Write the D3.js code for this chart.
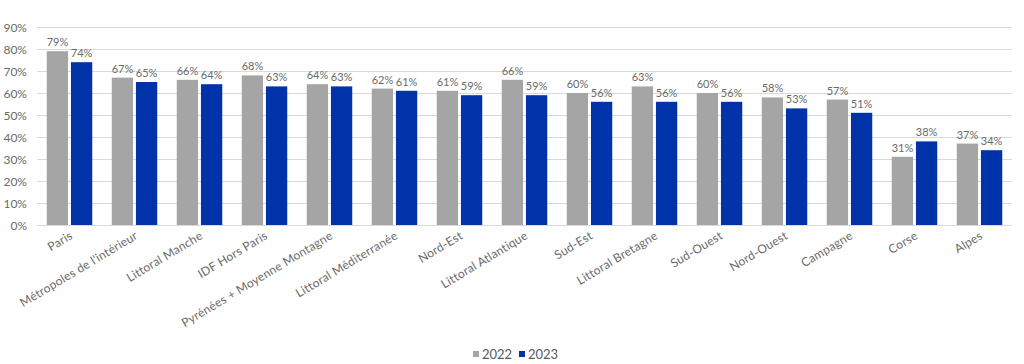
<!DOCTYPE html>
<html>
<head>
<meta charset="utf-8">
<script src="https://cdn.jsdelivr.net/npm/d3@7"></script>
<style>
	body{margin:0;background:#fff;}
	svg text{font-family:Lato, "Open Sans", sans-serif;fill:#6a6a6a;}
</style>
</head>
<body>
<div id="chart"></div>
<script>
// regions, ordered as in the chart
let categories = ["Paris", "Métropoles de l'intérieur", "Littoral Manche", "IDF Hors Paris",
	"Pyrénées + Moyenne Montagne", "Littoral Méditerranée", "Nord-Est", "Littoral Atlantique",
	"Sud-Est", "Littoral Bretagne", "Sud-Ouest", "Nord-Ouest", "Campagne", "Corse", "Alpes"];
let values2022 = [79, 67, 66, 68, 64, 62, 61, 66, 60, 63, 60, 58, 57, 31, 37];
let values2023 = [74, 65, 64, 63, 63, 61, 59, 59, 56, 56, 56, 53, 51, 38, 34];
let seriesNames = ["2022", "2023"];
let yTicks = [0, 10, 20, 30, 40, 50, 60, 70, 80, 90];

let colors = {"2022": "#a5a5a5", "2023": "#0032a9"};

let w = 1024, h = 364,
	margin = {top: 27, right: 12, bottom: 139, left: 37};

let svgElem = d3.select("#chart").append("svg").attr("width", w).attr("height", h);

let scaleX = d3.scaleBand().domain(categories)
	.range([margin.left, w - margin.right]).paddingInner(0.3).paddingOuter(0.15);
let scaleSub = d3.scaleBand().domain(seriesNames).range([0, scaleX.bandwidth()]).paddingInner(0.12);
let scaleY = d3.scaleLinear().domain([0, 90]).range([h - margin.bottom, margin.top]);

// gridlines
svgElem.append("g").selectAll("line").data(yTicks).join("line")
	.attr("x1", margin.left).attr("x2", w - margin.right)
	.attr("y1", d => scaleY(d) + 0.5).attr("y2", d => scaleY(d) + 0.5)
	.style("stroke", "#d9d9d9").style("stroke-width", 1);

// y labels
svgElem.append("g").selectAll("text").data(yTicks).join("text")
	.attr("x", 27).attr("y", d => scaleY(d))
	.attr("text-anchor", "end").attr("dominant-baseline", "central")
	.style("font-size", "12px")
	.text(d => d + "%");

let rows = categories.map(function(c, i){
	return {name: c, "2022": values2022[i], "2023": values2023[i]};
});

let groups = svgElem.append("g").selectAll("g").data(rows).join("g")
	.attr("transform", d => "translate(" + scaleX(d.name) + ",0)");

seriesNames.forEach(function(s){
	groups.append("rect")
		.attr("x", scaleSub(s))
		.attr("y", d => scaleY(d[s]))
		.attr("width", scaleSub.bandwidth())
		.attr("height", d => scaleY(0) - scaleY(d[s]))
		.style("fill", colors[s]);
	groups.append("text")
		.attr("x", scaleSub(s) + scaleSub.bandwidth()/2)
		.attr("y", d => scaleY(d[s]) - 5)
		.attr("text-anchor", "middle")
		.style("font-size", "11px")
		.text(d => d[s] + "%");
});

// category labels, rotated
svgElem.append("g").selectAll("text").data(categories).join("text")
	.attr("transform", d => "translate(" + (scaleX(d) + scaleX.bandwidth()/2 + 4) + "," + (scaleY(0) + 13) + ") rotate(-31)")
	.attr("text-anchor", "end")
	.style("font-size", "12px")
	.style("letter-spacing", "0.2px")
	.text(d => d);

// legend
let legend = svgElem.append("g").attr("transform", "translate(473," + 354 + ")");
seriesNames.forEach(function(s, i){
	let lg = legend.append("g").attr("transform", "translate(" + (i * 46) + ",0)");
	lg.append("rect").attr("x", 0).attr("y", -3).attr("width", 6).attr("height", 6).style("fill", colors[s]);
	lg.append("text").attr("x", 9).attr("y", 0).attr("dominant-baseline", "central")
		.style("font-size", "13px").style("fill", "#595959").text(s);
});
</script>
</body>
</html>
